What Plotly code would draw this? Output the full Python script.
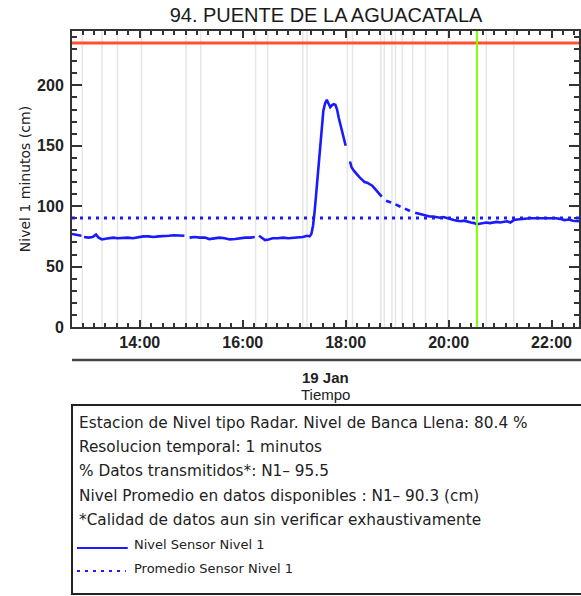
import plotly.graph_objects as go

DAY = "2021-01-19 "
TITLE = "94. PUENTE DE LA AGUACATALA"
Y_TITLE = "Nivel 1 minutos (cm)"
DATE_LABEL = "19 Jan"
X_TITLE = "Tiempo"

level_times = [
    "12:41", "12:45", "12:49", "12:52", "12:53", "12:55", "13:00", "13:05", "13:09", "13:12",
    "13:16", "13:20", "13:25", "13:29", "13:34", "13:40", "13:46", "13:52", "13:58", "14:04",
    "14:10", "14:16", "14:22", "14:28", "14:34", "14:40", "14:46", "14:52", "14:55", "14:58",
    "15:04", "15:10", "15:16", "15:21", "15:27", "15:33", "15:39", "15:45", "15:51", "15:57",
    "16:03", "16:09", "16:14", "16:16", "16:19", "16:23", "16:26", "16:30", "16:35", "16:41",
    "16:47", "16:53", "16:59", "17:05", "17:10", "17:15", "17:18", "17:20", "17:22", "17:24",
    "17:26", "17:28", "17:30", "17:32", "17:34", "17:36", "17:38", "17:40", "17:42", "17:44",
    "17:46", "17:48", "17:50", "17:52", "17:55", "17:58", "18:00", "18:02", "18:05", "18:07",
    "18:10", "18:13", "18:16", "18:19", "18:22", "18:25", "18:28", "18:31", "18:34", "18:37",
    "18:40", "18:42", "18:44", "18:47", "18:50", "18:53", "18:55", "18:58", "19:01", "19:04",
    "19:06", "19:09", "19:12", "19:15", "19:18", "19:21", "19:24", "19:27", "19:30", "19:34",
    "19:38", "19:42", "19:46", "19:50", "19:54", "19:58", "20:02", "20:06", "20:10", "20:14",
    "20:18", "20:22", "20:26", "20:30", "20:33", "20:36", "20:40", "20:44", "20:48", "20:52",
    "20:56", "21:00", "21:04", "21:08", "21:12", "21:16", "21:20", "21:25", "21:30", "21:35",
    "21:40", "21:45", "21:50", "21:55", "22:00", "22:05", "22:10", "22:15", "22:20", "22:25",
    "22:32",
]
level_values = [
    77, 76.5, 76, 75.5, None, 74.5, 74, 74.5, 76.5, 74,
    72.5, 73, 73.5, 74, 73.5, 74, 74, 73.5, 74.5, 75,
    75, 74.5, 75, 75, 75.5, 76, 75.5, 75.5, None, 74,
    74.5, 74, 74, 72.8, 73.5, 74, 73.5, 72.5, 72.8, 73.5,
    74, 74, 74.5, None, 75.5, 73.5, 72, 72.5, 73.5, 73.5,
    74, 73.5, 74, 74, 74.5, 75.5, 75, 77, 84, 97,
    113, 131, 150, 167, 179, 185, 188, 185, 182, 183.5,
    184.5, 184, 180, 173, 164, 155, 150, None, 137, 132,
    129, 126, 124, 122, 120, 119.5, 118, 117, 114.5, 112,
    109.5, 108, None, 104.5, 103.5, 103, None, 101.5, 100.5, 99.5,
    None, 98, 97, 96, None, 94.5, 94, 93.5, 92.5, 92,
    91.5, 91.5, 91, 90.5, 91, 90, 89, 88.5, 88, 87.5,
    88, 87, 86.5, 86, 85, 85.5, 86, 86.5, 86, 86.5,
    87, 86.5, 87, 87.5, 86.5, 88.5, 89, 89.5, 89.5, 90,
    90, 90, 90.5, 90, 90.5, 90, 89.5, 88.5, 89, 88,
    87.5,
]
MEAN_LEVEL = 90.3
BANKFULL_LEVEL = 235
NOW_TIME = "20:33"
gap_times = ["12:53", "13:16", "13:34", "14:02", "14:54", "15:11", "16:15", "16:29",
             "17:10", "17:15", "18:02", "18:08", "18:41", "18:45", "18:54", "18:58",
             "19:06", "19:18", "19:33", "19:59", "20:44", "21:16"]
X_RANGE = ["12:41", "22:32"]
Y_RANGE = [0, 245]

info_lines = [
    "Estacion de Nivel tipo Radar. Nivel de Banca Llena: 80.4 %",
    "Resolucion temporal: 1 minutos",
    "% Datos transmitidos*: N1\u2013 95.5",
    "Nivel Promedio en datos disponibles : N1\u2013 90.3 (cm)",
    "*Calidad de datos aun sin verificar exhaustivamente",
]
legend_labels = ["Nivel Sensor Nivel 1", "Promedio Sensor Nivel 1"]

W, H = 581, 596
ML, MR, MT, MB = 72, 0, 31, 269
PW = W - ML - MR
PH = H - MT - MB
FONT = "Liberation Sans, Arial, sans-serif"
TFONT = "DejaVu Sans, sans-serif"
BLUE = "#1a1aff"
DOT = "3px,5px"


def px(X):
    return (X - ML) / PW


def py(Y):
    return (MT + PH - Y) / PH


fig = go.Figure()
fig.add_trace(go.Scatter(
    x=[DAY + t for t in level_times], y=level_values, mode="lines",
    line=dict(color=BLUE, width=2.6), connectgaps=False, showlegend=False,
    hoverinfo="skip",
))

shapes = []
for t in gap_times:
    shapes.append(dict(type="line", xref="x", yref="paper", x0=DAY + t, x1=DAY + t,
                       y0=0, y1=1, line=dict(color="#e6e6e6", width=1.5), layer="below"))
shapes.append(dict(type="line", xref="paper", yref="y", x0=0, x1=1,
                   y0=BANKFULL_LEVEL, y1=BANKFULL_LEVEL,
                   line=dict(color="#ff5030", width=3)))
shapes.append(dict(type="line", xref="paper", yref="y", x0=0, x1=1,
                   y0=MEAN_LEVEL, y1=MEAN_LEVEL,
                   line=dict(color=BLUE, width=3, dash=DOT)))
shapes.append(dict(type="line", xref="x", yref="paper", x0=DAY + NOW_TIME, x1=DAY + NOW_TIME,
                   y0=0, y1=1, line=dict(color="#80ff00", width=2)))
# separator line under the axis
shapes.append(dict(type="line", xref="paper", yref="paper", x0=px(72), x1=px(600),
                   y0=py(360), y1=py(360), line=dict(color="#444444", width=2.5)))
# info box
shapes.append(dict(type="rect", xref="paper", yref="paper", x0=px(72), x1=px(600),
                   y0=py(594), y1=py(405), line=dict(color="#222222", width=2)))
# legend samples
shapes.append(dict(type="line", xref="paper", yref="paper", x0=px(77), x1=px(128),
                   y0=py(548), y1=py(548), line=dict(color=BLUE, width=2.2)))
shapes.append(dict(type="line", xref="paper", yref="paper", x0=px(77), x1=px(126),
                   y0=py(571), y1=py(571), line=dict(color=BLUE, width=2.2, dash=DOT)))

ann = []
ann.append(dict(text=Y_TITLE, xref="paper", yref="paper", x=px(25), y=0.5, showarrow=False,
                textangle=-90, font=dict(family=TFONT, size=14, color="#222222"),
                xanchor="center", yanchor="middle"))
ann.append(dict(text=DATE_LABEL, xref="paper", yref="paper", x=0.5, y=py(377), showarrow=False,
                font=dict(family=FONT, size=15, color="#222222", weight="bold"),
                xanchor="center", yanchor="middle"))
ann.append(dict(text=X_TITLE, xref="paper", yref="paper", x=0.5, y=py(394), showarrow=False,
                font=dict(family=FONT, size=15, color="#222222"),
                xanchor="center", yanchor="middle"))
for i, line in enumerate(info_lines):
    ann.append(dict(text=line, xref="paper", yref="paper", x=px(77), y=py(423 + 24.2 * i),
                    showarrow=False, font=dict(family=TFONT, size=15.3, color="#222222"),
                    xanchor="left", yanchor="middle"))
for i, line in enumerate(legend_labels):
    ann.append(dict(text=line, xref="paper", yref="paper", x=px(132), y=py(544 + 24 * i),
                    showarrow=False, font=dict(family=TFONT, size=13, color="#222222"),
                    xanchor="left", yanchor="middle"))

fig.update_layout(
    width=W, height=H, margin=dict(l=ML, r=MR, t=MT, b=MB, pad=0),
    paper_bgcolor="white", plot_bgcolor="white",
    title=dict(text=TITLE, xref="container", x=326 / W, xanchor="center",
               yref="container", y=1 - 15 / H, yanchor="middle",
               font=dict(family=FONT, size=20, color="#1a1a1a")),
    shapes=shapes, annotations=ann, showlegend=False, hovermode=False,
)
fig.update_xaxes(
    type="date", range=[DAY + X_RANGE[0], DAY + X_RANGE[1]],
    tickformat="%H:%M", dtick=2 * 3600 * 1000, tick0=DAY + "00:00",
    ticks="inside", ticklen=7, tickwidth=1.5, tickcolor="#333333",
    showline=True, linecolor="#333333", linewidth=2, mirror="allticks",
    showgrid=False, zeroline=False, ticklabelstandoff=0,
    tickfont=dict(family=FONT, size=16, color="#222222", weight="bold"),
    minor=dict(dtick=800000, tick0=DAY + "14:00", ticks="inside", ticklen=4,
               tickwidth=1.5, tickcolor="#333333", showgrid=False),
)
fig.update_yaxes(
    range=Y_RANGE, dtick=50, tick0=0,
    ticks="inside", ticklen=10, tickwidth=1.5, tickcolor="#333333",
    showline=True, linecolor="#333333", linewidth=2, mirror="allticks",
    showgrid=False, zeroline=False, ticklabelstandoff=3,
    tickfont=dict(family=FONT, size=16, color="#222222", weight="bold"),
    minor=dict(dtick=10, ticks="inside", ticklen=5, tickwidth=1.5,
               tickcolor="#333333", showgrid=False),
)

fig.write_html("out.html", config={"displayModeBar": False},
               post_script="document.body.style.margin='0px';")
